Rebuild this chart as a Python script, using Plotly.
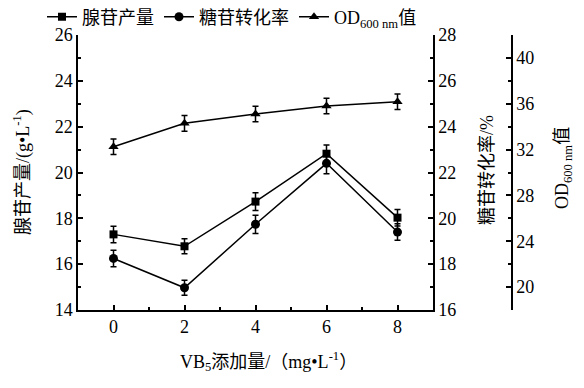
import plotly.graph_objects as go

x_vals = [0, 2, 4, 6, 8]
adenosine = [17.30, 16.78, 18.73, 20.82, 18.03]
adenosine_err = [0.36, 0.33, 0.39, 0.38, 0.36]
conversion = [18.25, 16.97, 19.74, 22.40, 19.40]
conversion_err = [0.36, 0.33, 0.40, 0.45, 0.36]
od600 = [32.25, 34.29, 35.10, 35.80, 36.18]
od600_err = [0.68, 0.68, 0.68, 0.68, 0.68]

names = ["腺苷产量", "糖苷转化率", "OD<sub>600 nm</sub>值"]
x_title = "VB<sub>5</sub>添加量/（mg•L<sup>-1</sup>）"
y1_title = "腺苷产量/(g•L<sup>-1</sup>)"
y2_title = "糖苷转化率/%"
y3_title = "OD<sub>600 nm</sub>值"

FONT = "Liberation Serif, Times New Roman, Noto Sans CJK SC"
OFF = 8  # page body margin
W, H = 584 - OFF, 388 - OFF
L = 78 - OFF
T = 35 - OFF
B = H - (310 - OFF)
R = 12
pw = W - L - R
ph = H - T - B
x_end = (433 - 78) / pw
od_pos = (512 - 78) / pw


def px_x(xp):
    return (xp - 78) / pw


def px_y(yp):
    return (310 - yp) / ph


fig = go.Figure()
line = dict(color="black", width=1.5)
err = lambda e: dict(type="data", array=e, color="black", thickness=1.5, width=3)

fig.add_trace(go.Scatter(x=x_vals, y=adenosine, error_y=err(adenosine_err), name=names[0],
                         mode="lines+markers", line=line,
                         marker=dict(symbol="square", size=8, color="black"), yaxis="y"))
fig.add_trace(go.Scatter(x=x_vals, y=conversion, error_y=err(conversion_err), name=names[1],
                         mode="lines+markers", line=line,
                         marker=dict(symbol="circle", size=9, color="black"), yaxis="y2"))
fig.add_trace(go.Scatter(x=x_vals, y=od600, error_y=err(od600_err), name=names[2],
                         mode="lines+markers", line=line,
                         marker=dict(symbol="triangle-up", size=9, color="black"), yaxis="y3"))

axis_common = dict(showgrid=False, zeroline=False, showline=True, linecolor="black", linewidth=1.5,
                   ticks="inside", ticklen=5, tickwidth=1.5, tickcolor="black",
                   tickfont=dict(family=FONT, size=18, color="black"))
minor_common = dict(ticks="inside", ticklen=3, tickcolor="black", tickwidth=1.5)

tfont = dict(family=FONT, size=18, color="black")
annotations = [
    dict(text=x_title, xref="paper", yref="paper", x=px_x(268), y=px_y(361),
         showarrow=False, font=tfont, xanchor="center", yanchor="middle"),
    dict(text=y1_title, xref="paper", yref="paper", x=px_x(22), y=px_y(172),
         showarrow=False, font=tfont, textangle=-90, xanchor="center", yanchor="middle"),
    dict(text=y2_title, xref="paper", yref="paper", x=px_x(487), y=px_y(170),
         showarrow=False, font=tfont, textangle=-90, xanchor="center", yanchor="middle"),
    dict(text=y3_title, xref="paper", yref="paper", x=px_x(563), y=px_y(168),
         showarrow=False, font=tfont, textangle=-90, xanchor="center", yanchor="middle"),
]

fig.update_layout(
    width=W, height=H,
    margin=dict(l=L, r=R, t=T, b=B, autoexpand=False),
    paper_bgcolor="white", plot_bgcolor="white",
    font=dict(family=FONT, size=18, color="black"),
    showlegend=True,
    legend=dict(orientation="h", x=px_x(42), y=px_y(17), xanchor="left", yanchor="middle",
                font=dict(family=FONT, size=18, color="black"), itemwidth=30,
                bgcolor="rgba(0,0,0,0)"),
    annotations=annotations,
    xaxis=dict(domain=[0, x_end], range=[-1, 9], tickvals=x_vals, ticktext=[str(v) for v in x_vals],
               minor=dict(dtick=1, tick0=1, **minor_common), **axis_common),
    yaxis=dict(range=[14, 26], dtick=2, tick0=14,
               minor=dict(dtick=1, **minor_common), **axis_common),
    yaxis2=dict(range=[16, 28], dtick=2, tick0=16, overlaying="y", side="right", anchor="x",
                minor=dict(dtick=1, **minor_common), **axis_common),
    yaxis3=dict(range=[18, 42], dtick=4, tick0=20, overlaying="y", side="right", anchor="free",
                position=od_pos,
                minor=dict(dtick=2, tick0=18, **minor_common), **axis_common),
)

fig.write_html("out.html")
